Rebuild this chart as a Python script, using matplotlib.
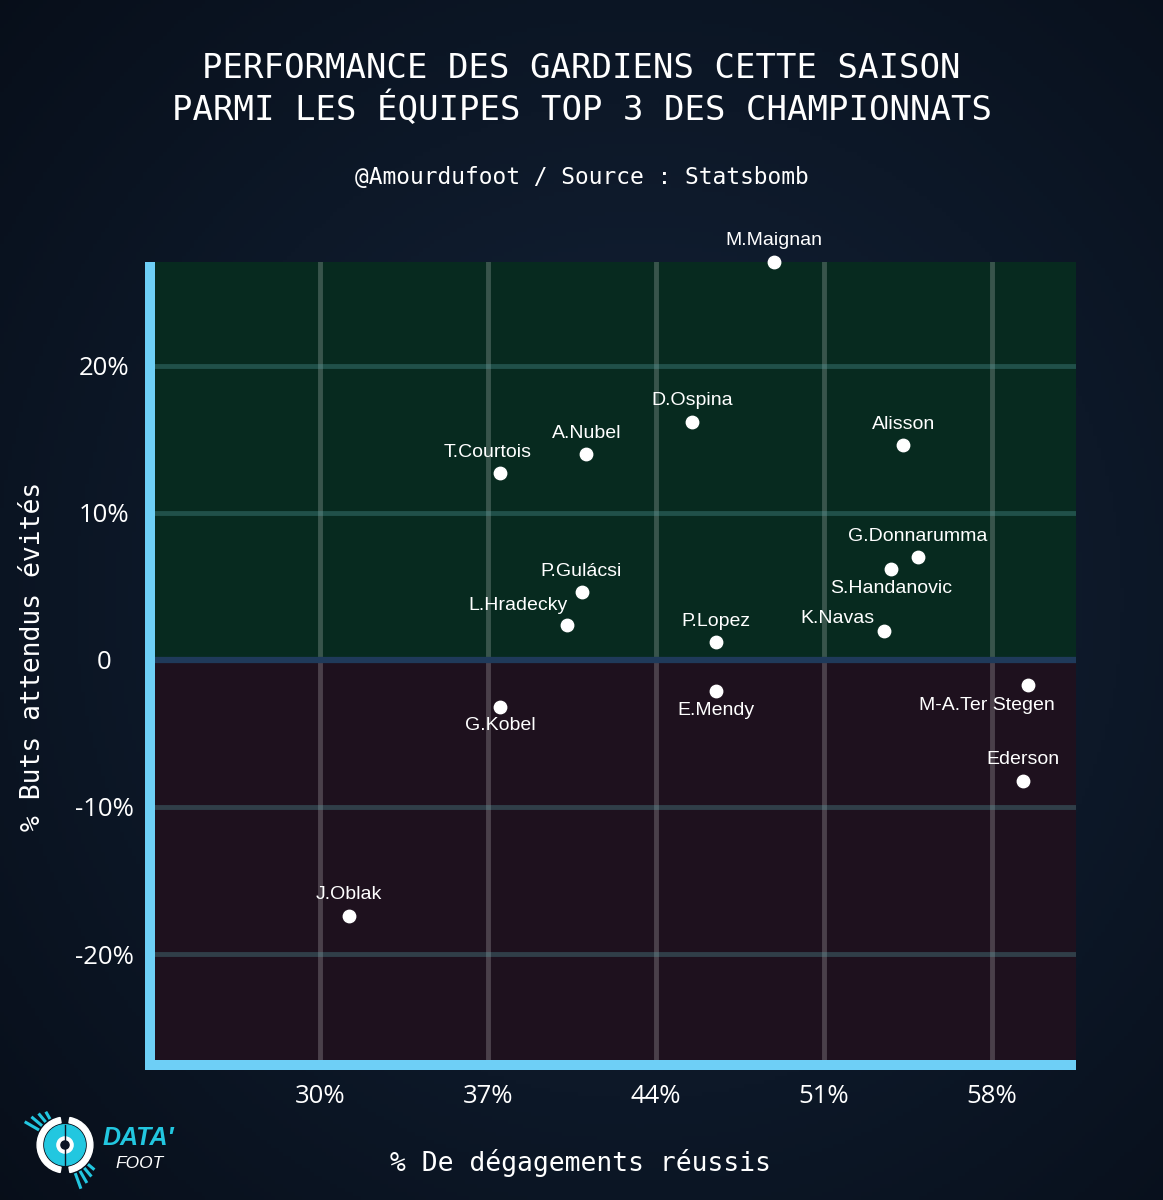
import numpy as np
import matplotlib
matplotlib.use("Agg")
import matplotlib.pyplot as plt
from matplotlib.patches import Circle, Wedge, Rectangle

# data
players = ["M.Maignan", "D.Ospina", "Alisson", "A.Nubel", "T.Courtois",
           "G.Donnarumma", "S.Handanovic", "P.Gulácsi", "L.Hradecky", "K.Navas",
           "P.Lopez", "M-A.Ter Stegen", "E.Mendy", "G.Kobel", "Ederson", "J.Oblak"]
clearances = [48.9, 45.5, 54.3, 41.1, 37.5,
              54.9, 53.8, 40.9, 40.3, 53.5,
              46.5, 59.5, 46.5, 37.5, 59.3, 31.2]
goals_prevented = [27.1, 16.2, 14.6, 14.0, 12.7,
                   7.0, 6.2, 4.6, 2.4, 2.0,
                   1.2, -1.7, -2.1, -3.2, -8.2, -17.4]
xticks = [30, 37, 44, 51, 58]
yticks = [-20, -10, 0, 10, 20]
ytick_labels = ["-20%", "-10%", "0", "10%", "20%"]

# label offsets in pixels (dx, dy) relative to each point
label_off = {
    "L.Hradecky": (-49, 19), "K.Navas": (-47, 12),
    "M-A.Ter Stegen": (-41, -21), "S.Handanovic": (0, -20),
    "E.Mendy": (0, -20), "G.Kobel": (0, -18), "T.Courtois": (-12, 21),
}

BG = "#0b1524"
MONO = "DejaVu Sans Mono"
W, H = 1163, 1200

fig = plt.figure(figsize=(W / 100, H / 100), dpi=100, facecolor=BG)

# subtle background vignette
bg = fig.add_axes([0, 0, 1, 1], zorder=-10)
yy, xx = np.mgrid[0:1:300j, 0:1:300j]
r = np.sqrt((xx - 0.55) ** 2 + (yy - 0.5) ** 2)
shade = np.clip(1 - r * 1.2, 0, 1)
img = np.zeros((300, 300, 3))
img[..., 0] = (6 + 14 * shade) / 255
img[..., 1] = (12 + 24 * shade) / 255
img[..., 2] = (22 + 36 * shade) / 255
bg.imshow(img, extent=[0, 1, 0, 1], aspect="auto")
bg.axis("off")

x0, x1 = 22.92, 61.5
y0, y1 = -27.55, 27.07
ax = fig.add_axes([150 / W, 1 - 1065 / H, (1076 - 150) / W, (1065 - 262) / H])
ax.set_xlim(x0, x1)
ax.set_ylim(y0, y1)
ax.patch.set_alpha(0)

# quadrant backgrounds
ax.add_patch(Rectangle((x0, 0), x1 - x0, y1, color="#072a1f", zorder=0))
ax.add_patch(Rectangle((x0, y0), x1 - x0, -y0, color="#1e111e", zorder=0))

for xv in xticks:
    ax.axvline(xv, color="white", alpha=0.2, lw=3.5, zorder=1)
for yv in yticks:
    if yv == 0:
        ax.axhline(0, color="#1f3a5a", lw=4.5, zorder=1)
    else:
        ax.axhline(yv, color="#5aa8ac", alpha=0.3, lw=3.5, zorder=1)

ax.scatter(clearances, goals_prevented, s=80, color="white", zorder=5, clip_on=False)

for name, xv, yv in zip(players, clearances, goals_prevented):
    dx, dy = label_off.get(name, (0, 21))
    ax.annotate(name, (xv, yv), xytext=(dx * 0.72, dy * 0.72), textcoords="offset points",
                ha="center", va="center", color="white", fontsize=14,
                family="Liberation Sans", zorder=6, annotation_clip=False)

for side in ["top", "right"]:
    ax.spines[side].set_visible(False)
for side in ["left", "bottom"]:
    ax.spines[side].set_color("#6ecff6")
    ax.spines[side].set_linewidth(7.2)
    ax.spines[side].set_zorder(7)
ax.spines["left"].set_capstyle("butt")
# projecting cap fills the corner; trim right end so it stops at the plot edge
ax.spines["bottom"].set_capstyle("projecting")
ax.spines["bottom"].set_bounds(x0, x1 - 5 / 24)

ax.set_xticks(xticks)
ax.set_xticklabels([f"{v}%" for v in xticks])
ax.set_yticks(yticks)
ax.set_yticklabels(ytick_labels)
ax.tick_params(length=0, colors="white", labelsize=18.5)
for lab in ax.get_xticklabels() + ax.get_yticklabels():
    lab.set_family("Open Sans")
for lab in ax.get_yticklabels():
    lab.set_horizontalalignment("center")
ax.tick_params(axis="y", pad=33)
ax.tick_params(axis="x", pad=14)

# titles and axis labels
fig.text(0.5, 1 - 68 / H, "PERFORMANCE DES GARDIENS CETTE SAISON", ha="center", va="center",
         color="white", fontsize=24.5, family=MONO)
fig.text(0.5, 1 - 109 / H, "PARMI LES ÉQUIPES TOP 3 DES CHAMPIONNATS", ha="center", va="center",
         color="white", fontsize=24.5, family=MONO)
fig.text(0.5, 1 - 177 / H, "@Amourdufoot / Source : Statsbomb", ha="center", va="center",
         color="white", fontsize=16.5, family=MONO)
fig.text(580 / W, 1 - 1163 / H, "% De dégagements réussis", ha="center", va="center",
         color="white", fontsize=19, family=MONO)
fig.text(33 / W, 1 - 656 / H, "% Buts attendus évités", ha="center", va="center",
         rotation=90, color="white", fontsize=19, family=MONO)

# logo
lg = fig.add_axes([20 / W, 1 - 1190 / H, 90 / W, 90 / H])
lg.set_xlim(-1, 1)
lg.set_ylim(-1, 1)
lg.set_aspect("equal")
lg.axis("off")
lg.add_patch(Wedge((0, 0), 0.62, 100, 260, width=0.12, color="white"))
lg.add_patch(Wedge((0, 0), 0.62, -80, 80, width=0.12, color="white"))
lg.add_patch(Circle((0, 0), 0.45, color="#22c7e0"))
lg.add_patch(Circle((0, 0), 0.18, color="white"))
lg.add_patch(Circle((0, 0), 0.09, color="#0b1524"))
lg.plot([0, 0], [-0.45, 0.45], color="#0b1524", lw=1)
for k in range(4):
    a = np.deg2rad(120 + k * 10)
    lg.plot([0.7 * np.cos(a), (0.82 + 0.06 * k) * np.cos(a)],
            [0.7 * np.sin(a), (0.82 + 0.06 * k) * np.sin(a)], color="#22c7e0", lw=2.2)
    a = np.deg2rad(-40 - k * 10)
    lg.plot([0.7 * np.cos(a), (0.82 + 0.06 * k) * np.cos(a)],
            [0.7 * np.sin(a), (0.82 + 0.06 * k) * np.sin(a)], color="#22c7e0", lw=2.2)
fig.text(103 / W, 1 - 1138 / H, "DATA\u2032", color="#22c7e0", fontsize=18, fontweight="bold",
         style="italic", family="Liberation Sans", va="center")
fig.text(115 / W, 1 - 1164 / H, "FOOT", color="white", fontsize=12.5,
         style="italic", family="Liberation Sans", va="center")

fig.savefig("out.png", dpi=100, facecolor=BG)
